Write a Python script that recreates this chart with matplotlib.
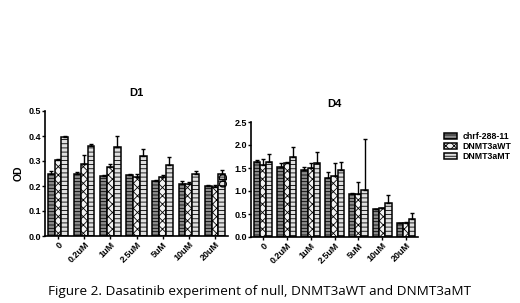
import matplotlib
matplotlib.use("Agg")
import matplotlib.pyplot as plt
import numpy as np

categories = ["0", "0.2uM", "1uM", "2.5uM", "5uM", "10uM", "20uM"]
series = ["chrf-288-11", "DNMT3aWT", "DNMT3aMT"]

d1_null = [0.25, 0.25, 0.24, 0.245, 0.22, 0.21, 0.20]
d1_null_err = [0.01, 0.005, 0.005, 0.005, 0.005, 0.01, 0.005]
d1_wt = [0.305, 0.29, 0.275, 0.235, 0.235, 0.21, 0.195]
d1_wt_err = [0.005, 0.035, 0.015, 0.015, 0.01, 0.005, 0.01]
d1_mt = [0.395, 0.36, 0.355, 0.32, 0.285, 0.25, 0.25]
d1_mt_err = [0.005, 0.01, 0.045, 0.03, 0.03, 0.01, 0.015]

d4_null = [1.62, 1.53, 1.46, 1.28, 0.94, 0.60, 0.30]
d4_null_err = [0.05, 0.07, 0.07, 0.13, 0.01, 0.01, 0.01]
d4_wt = [1.57, 1.60, 1.50, 1.32, 0.93, 0.62, 0.30]
d4_wt_err = [0.12, 0.03, 0.10, 0.28, 0.27, 0.02, 0.02]
d4_mt = [1.63, 1.75, 1.60, 1.45, 1.03, 0.75, 0.40]
d4_mt_err = [0.17, 0.20, 0.25, 0.18, 1.10, 0.17, 0.12]

plt.rcParams['hatch.linewidth'] = 0.6
plt.rcParams['font.family'] = ['Liberation Sans', 'DejaVu Sans']

W, H = 520, 303
fig = plt.figure(figsize=(W/100, H/100), dpi=100)

def ax_rect(x0, y0, x1, y1):
    return [x0/W, 1 - y1/H, (x1-x0)/W, (y1-y0)/H]

styles = [
    dict(facecolor="#8c8c8c", hatch="-----"),
    dict(facecolor="#f2f2f2", hatch="xxxx"),
    dict(facecolor="#e0e0e0", hatch="----"),
]

def draw(ax, vals, errs, ymax, yticks, title):
    x = np.arange(len(categories))
    w = 0.26
    for i, (v, e) in enumerate(zip(vals, errs)):
        ax.bar(x + (i-1)*w, v, w, yerr=[np.zeros(len(e)), e],
               edgecolor="black", linewidth=1.1, capsize=1.5,
               error_kw=dict(elinewidth=1.0, capthick=1.0, ecolor="black"),
               label=series[i], **styles[i])
    ax.set_ylim(0, ymax)
    ax.set_xlim(-0.5, len(categories)-0.5)
    ax.set_yticks(yticks)
    ax.set_yticklabels([f"{t:.1f}" for t in yticks], fontsize=6.5, fontweight="bold")
    ax.set_xticks(x)
    ax.set_xticklabels(categories, rotation=45, ha="right", rotation_mode="anchor",
                       fontsize=6.5, fontweight="bold")
    for s in ["top", "right"]:
        ax.spines[s].set_visible(False)
    for s in ["left", "bottom"]:
        ax.spines[s].set_linewidth(1.2)
    ax.tick_params(length=2, width=1, pad=1)
    ax.set_title(title, fontsize=8, fontweight="bold", pad=11)
    ax.set_ylabel("OD", fontsize=7.5, fontweight="bold", labelpad=3)

ax1 = fig.add_axes(ax_rect(45, 111, 228, 236))
draw(ax1, [d1_null, d1_wt, d1_mt], [d1_null_err, d1_wt_err, d1_mt_err], 0.5,
     [0.0, 0.1, 0.2, 0.3, 0.4, 0.5], "D1")

ax2 = fig.add_axes(ax_rect(251, 122, 418, 237))
draw(ax2, [d4_null, d4_wt, d4_mt], [d4_null_err, d4_wt_err, d4_mt_err], 2.5,
     [0.0, 0.5, 1.0, 1.5, 2.0, 2.5], "D4")

handles, labels = ax2.get_legend_handles_labels()
fig.legend(handles, labels, loc="upper left", bbox_to_anchor=(436/W, 1-124/H),
           frameon=False, handlelength=1.5, handleheight=0.7,
           labelspacing=0.1, handletextpad=0.6,
           prop=dict(size=6.3, weight="bold"))

fig.text(48/W, 1-292/H, "Figure 2. Dasatinib experiment of null, DNMT3aWT and DNMT3aMT",
         fontsize=9.7, va="center", ha="left", family=["Open Sans", "DejaVu Sans"])

fig.savefig("out.png", dpi=100)
